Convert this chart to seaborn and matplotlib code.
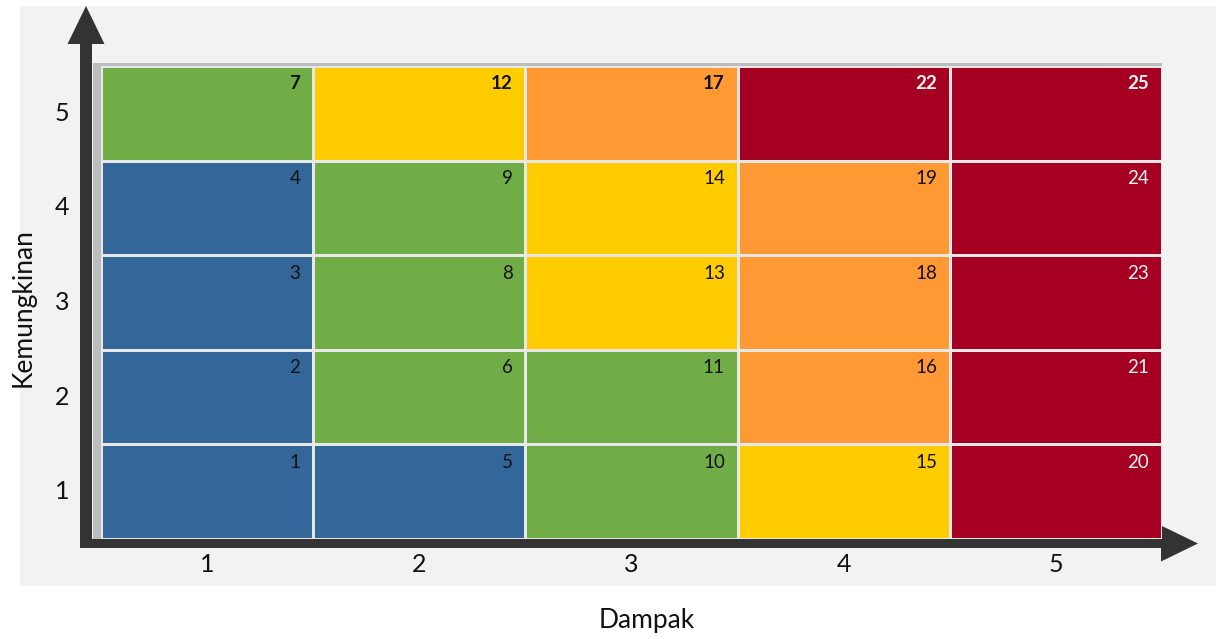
import numpy as np
import pandas as pd
import seaborn as sns
import matplotlib
matplotlib.use("Agg", force=True)
import matplotlib.pyplot as plt
from matplotlib.colors import ListedColormap
from matplotlib.patches import Rectangle, FancyArrow

# risk matrix: rows = kemungkinan (top to bottom), cols = dampak
dampak = ["1", "2", "3", "4", "5"]
kemungkinan = ["5", "4", "3", "2", "1"]
skor = [
    [7, 12, 17, 22, 25],
    [4, 9, 14, 19, 24],
    [3, 8, 13, 18, 23],
    [2, 6, 11, 16, 21],
    [1, 5, 10, 15, 20],
]
# 0 = biru, 1 = hijau, 2 = kuning, 3 = oranye, 4 = merah
level = [
    [1, 2, 3, 4, 4],
    [0, 1, 2, 3, 4],
    [0, 1, 2, 3, 4],
    [0, 1, 1, 3, 4],
    [0, 0, 1, 2, 4],
]
level_colors = ["#336699", "#70AD47", "#FFCC00", "#FF9933", "#A50021"]
text_colors = ["#111111", "#111111", "#111111", "#111111", "#F5F5F5"]

sns.set_theme(style="white")
plt.rcParams["font.family"] = ["Lato", "DejaVu Sans"]

W, H = 1219, 639
fig = plt.figure(figsize=(W / 100, H / 100), dpi=100)

# background panel + axis arrows, drawn in pixel space
bg = fig.add_axes([0, 0, 1, 1], zorder=0)
bg.set_xlim(0, W)
bg.set_ylim(H, 0)
bg.axis("off")
bg.add_patch(Rectangle((20, 6), 1196, 580, color="#F2F2F2", lw=0))
bg.add_patch(Rectangle((93, 63), 1069, 478, color="#BDBDBD", lw=0))
bg.add_patch(FancyArrow(86, 548, 0, -542, width=12, head_width=37, head_length=38,
                        length_includes_head=True, color="#333333", lw=0))
bg.add_patch(FancyArrow(80, 543.5, 1118, 0, width=9, head_width=36, head_length=37,
                        length_includes_head=True, color="#333333", lw=0))

left, right, top, bottom = 101, 1162, 66, 539
ax = fig.add_axes([left / W, 1 - bottom / H, (right - left) / W, (bottom - top) / H], zorder=1)
ax.patch.set_alpha(0)

df_level = pd.DataFrame(level, index=kemungkinan, columns=dampak)
sns.heatmap(df_level, ax=ax, cmap=ListedColormap(level_colors), vmin=-0.5, vmax=4.5,
            cbar=False, linewidths=2, linecolor="#E8E8E8", square=False)

for i, row in enumerate(skor):
    for j, val in enumerate(row):
        lv = level[i][j]
        ax.text(j + 0.94, i + 0.19, str(val), ha="right", va="center",
                fontsize=13.5, color=text_colors[lv],
                fontweight="bold" if i == 0 else "normal")

ax.tick_params(axis="both", length=0, labelsize=18, colors="#111111")
ax.tick_params(axis="y", pad=23, rotation=0)
ax.tick_params(axis="x", pad=10)

ax.set_xlabel("Dampak", fontsize=19, color="#111111")
ax.set_ylabel("Kemungkinan", fontsize=19, color="#111111")
ax.xaxis.set_label_coords((647 - left) / (right - left), (bottom - 608) / (bottom - top))
ax.yaxis.set_label_coords((36 - left) / (right - left), (bottom - 308) / (bottom - top))

fig.savefig("out.png", dpi=100)
